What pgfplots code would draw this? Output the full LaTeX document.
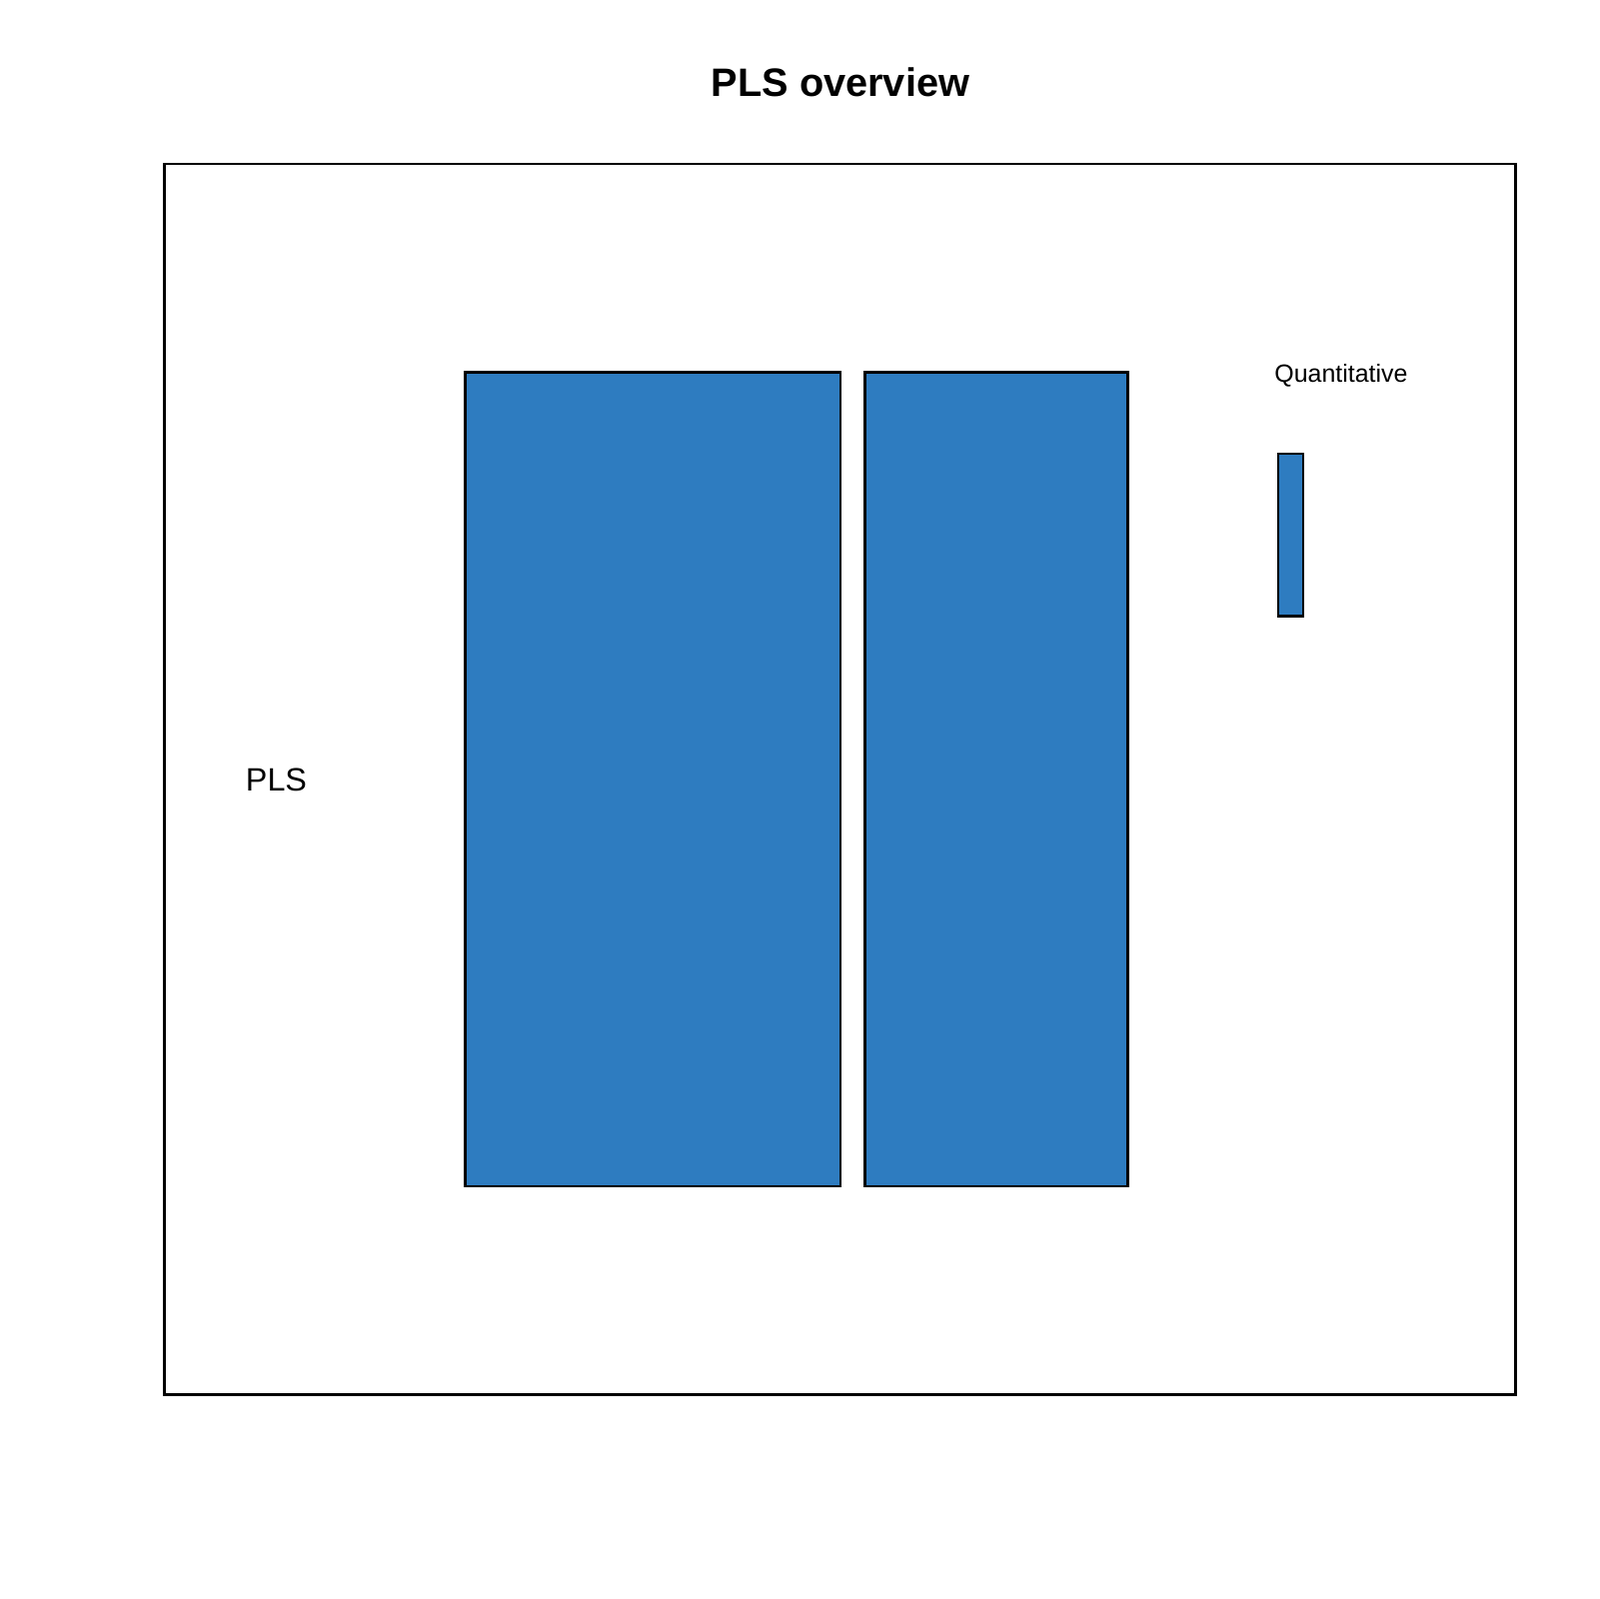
\documentclass[border=0pt]{standalone}
\usepackage{pgfplots}
\pgfplotsset{compat=1.18}
\usepackage{fontspec}
\setmainfont{Liberation Sans}
\definecolor{barblue}{RGB}{46,124,192}
\begin{document}
\begin{tikzpicture}[x=0.1mm,y=0.1mm]
\path[use as bounding box] (0,0) rectangle (1600,1600);
\begin{axis}[
  at={(16.42mm,20.43mm)}, anchor=south west,
  scale only axis, width=135.26mm, height=123.17mm,
  xmin=163.7, xmax=1516.3, ymin=204.3, ymax=1436,
  axis line style={line width=0.85pt},
  xtick=\empty, ytick=\empty, clip=false]
\addplot[fill=barblue, draw=black, line width=0.7pt] coordinates {(464.8,413) (840.3,413) (840.3,1227.6) (464.8,1227.6)} --cycle;
\addplot[fill=barblue, draw=black, line width=0.7pt] coordinates {(865.2,413) (1127.8,413) (1127.8,1227.6) (865.2,1227.6)} --cycle;
\addplot[fill=barblue, draw=black, line width=0.7pt] coordinates {(1278.5,983.3) (1303.5,983.3) (1303.5,1146) (1278.5,1146)} --cycle;
\node[anchor=base, inner sep=0pt, font=\fontsize{7.1}{8}\selectfont] at (axis cs:1341.5,1217.7) {Quantitative};
\node[anchor=base, inner sep=0pt, font=\fontsize{9.2}{10}\selectfont] at (axis cs:276,808.3) {PLS};
\node[anchor=base, inner sep=0pt, font=\fontsize{11.3}{13}\selectfont\bfseries] at (axis cs:840.5,1503.3) {PLS overview};
\end{axis}
\end{tikzpicture}
\end{document}
